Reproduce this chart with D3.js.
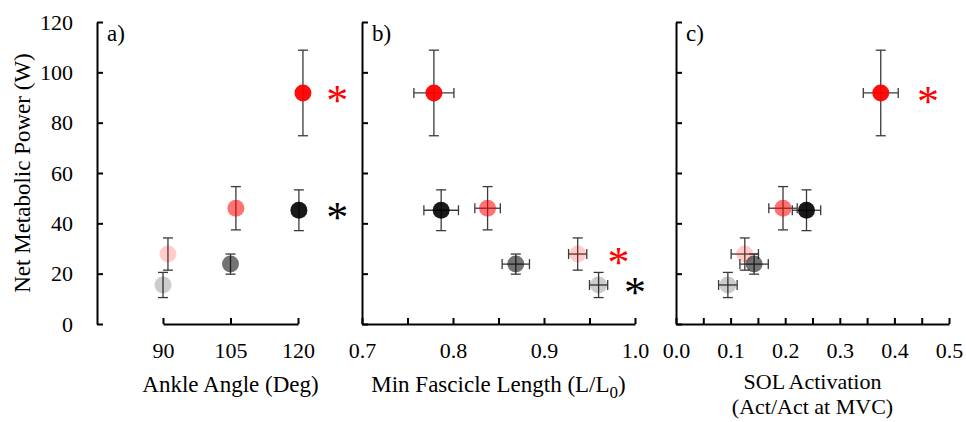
<!DOCTYPE html>
<html>
<head>
<meta charset="utf-8">
<script src="https://cdn.jsdelivr.net/npm/d3@7"></script>
<style>
  body { margin: 0; background: #fff; }
  .axis path, .axis line { stroke: #000; stroke-width: 2; }
  .err { stroke: #3a3a3a; stroke-width: 1.3; fill: none; }
</style>
</head>
<body>
<svg id="chart" width="966" height="422"></svg>
<script>
// order: 90 (grey, pink), 105 (dark grey, light red), 120 (black, red)
var groups = ["grey90", "pink90", "dgrey105", "lred105", "black120", "red120"];
var ankleAngle = [90.0, 91.1, 105.0, 106.2, 120.2, 121.1];
var power = [15.5, 27.8, 23.8, 46.0, 45.2, 91.8];
var powerErr = [5.0, 6.4, 4.0, 8.6, 8.1, 17.0];
var fascicle = [0.960, 0.937, 0.869, 0.838, 0.787, 0.779];
var fascicleErr = [0.010, 0.010, 0.015, 0.014, 0.019, 0.022];
var solAct = [0.095, 0.126, 0.143, 0.196, 0.239, 0.375];
var solActErr = [0.017, 0.025, 0.026, 0.026, 0.026, 0.032];

var angleTicks = [90, 105, 120];
var powerTicks = [0, 20, 40, 60, 80, 100, 120];

// significance stars: [x, y, colour]
var starsA = [[128.7, 91.4, "red"], [128.7, 44.9, "black"]];
var starsB = [[0.982, 27.0, "red"], [1.0, 15.1, "black"]];
var starsC = [[0.4615, 91.0, "red"]];

var fills = {
    grey90: ["#000", 0.2], pink90: ["#f00", 0.2],
    dgrey105: ["#000", 0.55], lred105: ["#f00", 0.55],
    black120: ["#000", 0.9], red120: ["#f00", 0.95]
};

var FONT = "'Liberation Serif', 'Times New Roman', Times, serif";

var svg = d3.select("#chart");
var plotTop = 22, plotBottom = 324;

var y = d3.scaleLinear().domain([0, 120]).range([plotBottom, plotTop]);

var panels = [
    {id: "a", yx: 97, x: d3.scaleLinear().domain([90, 120]).range([163, 298]),
     xv: ankleAngle, xe: null, ticks: angleTicks, fmt: d3.format("d"), stars: starsA,
     title: ["Ankle Angle (Deg)"]},
    {id: "b", yx: 362, x: d3.scaleLinear().domain([0.7, 1.0]).range([362, 635]),
     xv: fascicle, xe: fascicleErr, ticks: d3.range(0, 7).map(function(i) { return 0.7 + i * 0.05; }),
     fmt: function(v) { return Math.round(v * 100) % 10 === 0 ? d3.format(".1f")(v) : ""; },
     stars: starsB, title: null},
    {id: "c", yx: 676, x: d3.scaleLinear().domain([0, 0.5]).range([676, 949]),
     xv: solAct, xe: solActErr, ticks: d3.range(0, 11).map(function(i) { return i * 0.05; }),
     fmt: function(v) { return Math.round(v * 100) % 10 === 0 ? d3.format(".1f")(v) : ""; },
     stars: starsC, title: ["SOL Activation", "(Act/Act at MVC)"]}
];

panels.forEach(function(p) {
    var g = svg.append("g");

    // y axis
    var yAxis = d3.axisLeft(y).tickValues(powerTicks).tickSizeInner(-6).tickSizeOuter(0).tickPadding(24);
    if (p.id !== "a") yAxis.tickFormat("");
    g.append("g")
        .attr("class", "axis")
        .attr("transform", "translate(" + p.yx + ",0)")
        .call(yAxis);

    // x axis
    g.append("g")
        .attr("class", "axis")
        .attr("transform", "translate(0," + plotBottom + ")")
        .call(d3.axisBottom(p.x).tickValues(p.ticks).tickFormat(p.fmt)
            .tickSizeInner(-6).tickSizeOuter(0).tickPadding(18));

    g.selectAll(".axis").attr("font-family", FONT).attr("font-size", 22);

    g.append("text")
        .attr("x", p.yx + 10)
        .attr("y", 41)
        .style("font-family", FONT)
        .style("font-size", "23px")
        .text(p.id + ")");

    // error bars
    var eb = g.selectAll(".eb").data(groups).enter().append("g").attr("class", "err");
    eb.each(function(d, i) {
        var e = d3.select(this);
        var cx = p.x(p.xv[i]), cy = y(power[i]);
        var y1 = y(power[i] + powerErr[i]), y2 = y(power[i] - powerErr[i]);
        e.append("line").attr("x1", cx).attr("x2", cx).attr("y1", y1).attr("y2", y2);
        e.append("line").attr("x1", cx - 5).attr("x2", cx + 5).attr("y1", y1).attr("y2", y1);
        e.append("line").attr("x1", cx - 5).attr("x2", cx + 5).attr("y1", y2).attr("y2", y2);
        if (p.xe) {
            var x1 = p.x(p.xv[i] - p.xe[i]), x2 = p.x(p.xv[i] + p.xe[i]);
            e.append("line").attr("x1", x1).attr("x2", x2).attr("y1", cy).attr("y2", cy);
            e.append("line").attr("x1", x1).attr("x2", x1).attr("y1", cy - 5).attr("y2", cy + 5);
            e.append("line").attr("x1", x2).attr("x2", x2).attr("y1", cy - 5).attr("y2", cy + 5);
        }
    });

    g.selectAll(".dot")
        .data(groups)
        .enter().append("circle")
        .attr("class", "dot")
        .attr("r", 8.5)
        .attr("cx", function(d, i) { return p.x(p.xv[i]); })
        .attr("cy", function(d, i) { return y(power[i]); })
        .style("fill", function(d) { return fills[d][0]; })
        .style("fill-opacity", function(d) { return fills[d][1]; });

    g.selectAll(".star")
        .data(p.stars)
        .enter().append("text")
        .attr("class", "star")
        .attr("x", function(d) { return p.x(d[0]); })
        .attr("y", function(d) { return y(d[1]); })
        .attr("dy", "0.48em")
        .attr("text-anchor", "middle")
        .style("font-family", FONT)
        .style("font-size", "44px")
        .style("fill", function(d) { return d[2]; })
        .text("*");

    // axis title
    var cx = (p.x.range()[0] + p.x.range()[1]) / 2;
    if (p.title && p.title.length > 1) {
        p.title.forEach(function(t, k) {
            g.append("text")
                .attr("x", cx)
                .attr("y", 389 + k * 25)
                .attr("text-anchor", "middle")
                .style("font-family", FONT)
                .style("font-size", "22px")
                .text(t);
        });
    } else if (p.title) {
        g.append("text")
            .attr("x", cx)
            .attr("y", 392)
            .attr("text-anchor", "middle")
            .style("font-family", FONT)
            .style("font-size", "23px")
            .text(p.title[0]);
    } else {
        var tt = g.append("text")
            .attr("x", cx)
            .attr("y", 392)
            .attr("text-anchor", "middle")
            .style("font-family", FONT)
            .style("font-size", "23px");
        tt.append("tspan").text("Min Fascicle Length (L/L");
        tt.append("tspan").attr("dy", 6).style("font-size", "17px").text("0");
        tt.append("tspan").attr("dy", -6).text(")");
    }
});

svg.append("text")
    .attr("transform", "translate(30," + ((plotTop + plotBottom) / 2) + ") rotate(-90)")
    .attr("text-anchor", "middle")
    .style("font-family", FONT)
    .style("font-size", "23px")
    .text("Net Metabolic Power (W)");
</script>
</body>
</html>
